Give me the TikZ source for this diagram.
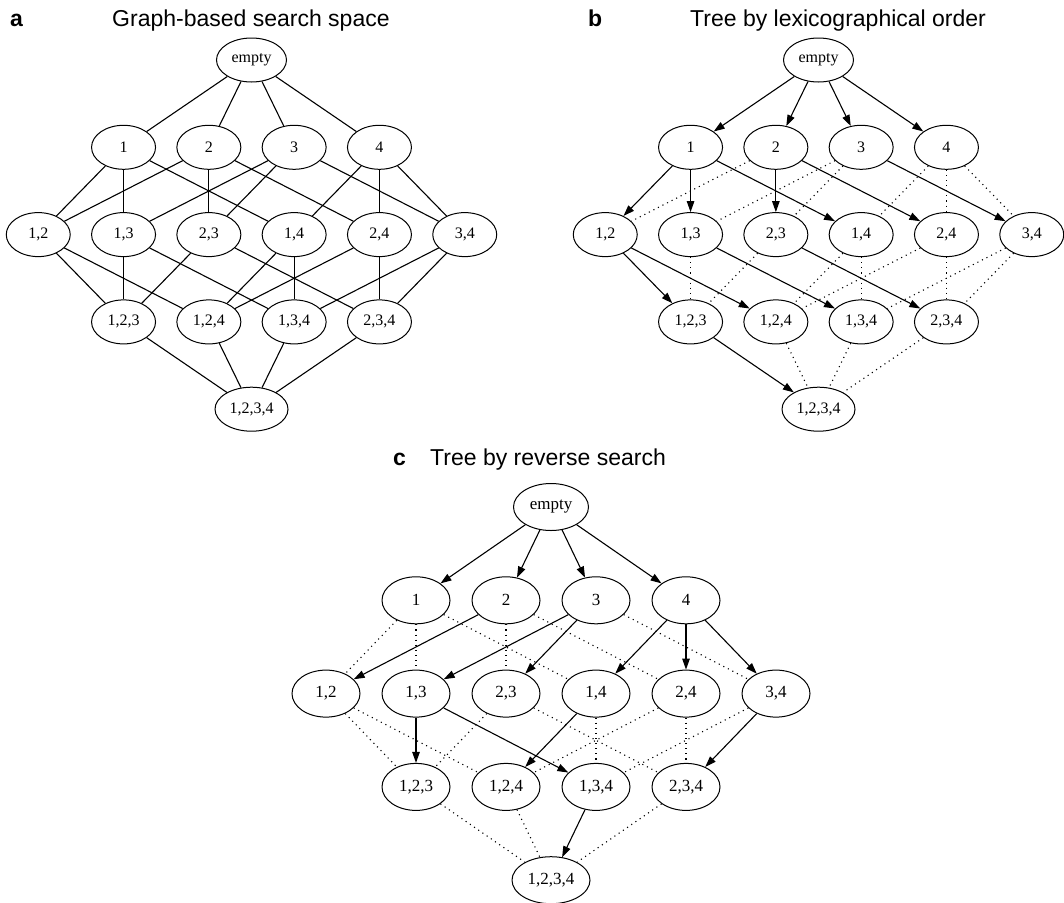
\documentclass[tikz,border=0pt]{standalone}
\usepackage{fontspec}
\setmainfont{Liberation Serif}
\newfontfamily\titlefont{Liberation Sans}
\usetikzlibrary{shapes.geometric,arrows.meta}

\tikzset{
  setnode/.style={ellipse, draw, line width=1pt, inner sep=0pt,
    minimum height=44pt, minimum width=64pt, font=\fontsize{16}{18}\selectfont},
  emptynode/.style={setnode, minimum width=70pt},
  fullnode/.style={setnode, minimum width=73pt},
  link/.style={line width=1.1pt},
  treeedge/.style={line width=1.1pt, -{Triangle[length=11pt,width=7.5pt]}},
  dotedge/.style={line width=1.1pt, dash pattern=on 1.1pt off 4pt},
  panelletter/.style={anchor=base west, inner sep=0pt,
    font=\titlefont\bfseries\fontsize{23}{26}\selectfont},
  paneltitle/.style={anchor=base west, inner sep=0pt,
    font=\titlefont\fontsize{23}{26}\selectfont},
}

% the sixteen subsets of {1,2,3,4}, one row per size
\newcommand\latticenodes[1]{%
  \node[emptynode] (#1-e) at (0,0) {empty};
  \node[setnode] (#1-1) at (-1.5,1) {1};
  \node[setnode] (#1-2) at (-0.5,1) {2};
  \node[setnode] (#1-3) at (0.5,1) {3};
  \node[setnode] (#1-4) at (1.5,1) {4};
  \node[setnode] (#1-12) at (-2.5,2) {1,2};
  \node[setnode] (#1-13) at (-1.5,2) {1,3};
  \node[setnode] (#1-23) at (-0.5,2) {2,3};
  \node[setnode] (#1-14) at (0.5,2) {1,4};
  \node[setnode] (#1-24) at (1.5,2) {2,4};
  \node[setnode] (#1-34) at (2.5,2) {3,4};
  \node[setnode] (#1-123) at (-1.5,3) {1,2,3};
  \node[setnode] (#1-124) at (-0.5,3) {1,2,4};
  \node[setnode] (#1-134) at (0.5,3) {1,3,4};
  \node[setnode] (#1-234) at (1.5,3) {2,3,4};
  \node[fullnode] (#1-1234) at (0,4) {1,2,3,4};
}

\begin{document}
\begin{tikzpicture}[x=1pt, y=-1pt]
  \fill[white] (0,0) rectangle (1064,902);
  \useasboundingbox (0,0) rectangle (1064,902);

  % panel titles
  \node[panelletter] (la) at (10,26) {a};
  \node[paneltitle] (ta) at (112,26) {Graph-based search space};
  \node[panelletter] (lb) at (588,26) {b};
  \node[paneltitle] (tb) at (690,26) {Tree by lexicographical order};
  \node[panelletter] (lc) at (393,465) {c};
  \node[paneltitle] (tc) at (430,465) {Tree by reverse search};

  % (a) full subset lattice
  \begin{scope}[shift={(251.5,60)}, x=85.3pt, y=-87.3pt]
    \latticenodes{a}
    \foreach \u/\v in {e/1,e/2,e/3,e/4,
        1/12,1/13,1/14,2/12,2/23,2/24,3/13,3/23,3/34,4/14,4/24,4/34,
        12/123,12/124,13/123,13/134,23/123,23/234,
        14/124,14/134,24/124,24/234,34/134,34/234,
        123/1234,124/1234,134/1234,234/1234}
      \draw[link] (a-\u) -- (a-\v);
  \end{scope}

  % (b) parent = set without its largest element
  \begin{scope}[shift={(818.5,60)}, x=85.3pt, y=-87.3pt]
    \latticenodes{b}
    \foreach \u/\v/\s in {e/1/treeedge,e/2/treeedge,e/3/treeedge,e/4/treeedge,
        1/12/treeedge,1/13/treeedge,1/14/treeedge,
        2/12/dotedge,2/23/treeedge,2/24/treeedge,
        3/13/dotedge,3/23/dotedge,3/34/treeedge,
        4/14/dotedge,4/24/dotedge,4/34/dotedge,
        12/123/treeedge,12/124/treeedge,13/123/dotedge,13/134/treeedge,
        23/123/dotedge,23/234/treeedge,14/124/dotedge,14/134/dotedge,
        24/124/dotedge,24/234/dotedge,34/134/dotedge,34/234/dotedge,
        123/1234/treeedge,124/1234/dotedge,134/1234/dotedge,234/1234/dotedge}
      \draw[\s] (b-\u) -- (b-\v);
  \end{scope}

  % (c) reverse search tree
  \begin{scope}[shift={(551,507)}, x=90pt, y=-93.3pt,
      setnode/.append style={minimum height=47pt, minimum width=68pt,
        font=\fontsize{17}{19}\selectfont},
      emptynode/.append style={minimum width=75pt},
      fullnode/.append style={minimum width=78pt}]
    \latticenodes{c}
    \foreach \u/\v/\s in {e/1/treeedge,e/2/treeedge,e/3/treeedge,e/4/treeedge,
        1/12/dotedge,1/13/dotedge,1/14/dotedge,
        2/12/treeedge,2/23/dotedge,2/24/dotedge,
        3/13/treeedge,3/23/treeedge,3/34/dotedge,
        4/14/treeedge,4/24/treeedge,4/34/treeedge,
        12/123/dotedge,12/124/dotedge,13/123/treeedge,13/134/treeedge,
        23/123/dotedge,23/234/dotedge,14/124/treeedge,14/134/dotedge,
        24/124/dotedge,24/234/dotedge,34/134/dotedge,34/234/treeedge,
        123/1234/dotedge,124/1234/dotedge,134/1234/treeedge,234/1234/dotedge}
      \draw[\s] (c-\u) -- (c-\v);
  \end{scope}
\end{tikzpicture}
\end{document}
